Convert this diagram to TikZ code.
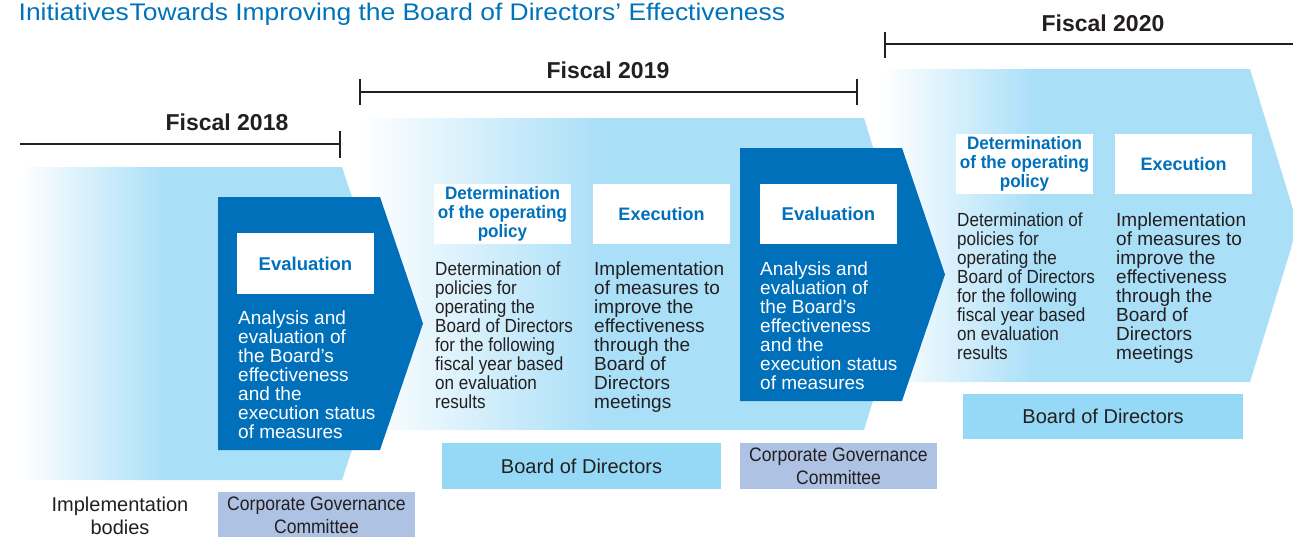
\documentclass[tikz,border=0pt]{standalone}
\usepackage{fontspec}
\setmainfont{Liberation Sans}
\newfontfamily\condfont{Liberation Sans}[FakeStretch=0.9]
\newfontfamily\condhfont{Liberation Sans}[FakeStretch=0.95]
\newfontfamily\titlefont{Liberation Sans}[FakeStretch=1.1]
\definecolor{dblue}{RGB}{0,112,187}
\definecolor{lblue}{RGB}{170,223,248}
\definecolor{bodfill}{RGB}{150,217,247}
\definecolor{cgcfill}{RGB}{174,195,228}
\definecolor{txt}{RGB}{35,31,32}
\definecolor{ttl}{RGB}{0,114,188}
\pgfdeclarehorizontalshading{fadeone}{100bp}{color(0bp)=(white); color(25bp)=(white); color(44.4bp)=(lblue); color(100bp)=(lblue)}
\pgfdeclarehorizontalshading{fadetwo}{100bp}{color(0bp)=(white); color(25bp)=(white); color(46.7bp)=(lblue); color(100bp)=(lblue)}
\pgfdeclarehorizontalshading{fadethree}{100bp}{color(0bp)=(white); color(25bp)=(white); color(43.3bp)=(lblue); color(100bp)=(lblue)}
\tikzset{
  hdrbox/.style={fill=white, draw=none, minimum width=137pt, minimum height=60pt, inner sep=0pt, text=dblue, align=center, font=\bfseries\fontsize{18pt}{19pt}\selectfont},
  hdrdet/.style={hdrbox, font=\condhfont\bfseries\fontsize{18pt}{19pt}\selectfont},
  desctext/.style={anchor=north west, inner sep=0pt, align=left, text=txt, font=\fontsize{19pt}{19pt}\selectfont},
  descnarrow/.style={desctext, font=\condfont\fontsize{19pt}{19pt}\selectfont},
  descwhite/.style={desctext, text=white},
  bodbox/.style={fill=bodfill, inner sep=0pt, text=txt, font=\fontsize{20pt}{23pt}\selectfont, minimum height=46pt, minimum width=279pt},
  cgcbox/.style={fill=cgcfill, inner sep=0pt, text=txt, align=center, font=\condfont\fontsize{19.5pt}{23pt}\selectfont, minimum width=197pt, minimum height=46pt},
  fiscallbl/.style={inner sep=0pt, text=txt, font=\bfseries\fontsize{23pt}{23pt}\selectfont},
  bracketline/.style={draw=txt, line width=1.6pt},
  darkarrow/.style={fill=dblue, draw=none},
}
\begin{document}
\begin{tikzpicture}[x=1pt,y=-1pt]
\useasboundingbox (0,0) rectangle (1293,536);
\begin{scope}
\clip (0,0) rectangle (1293,536);
% light arrows
\shade[shading=fadeone] (20,167) -- (342,167) -- (394,323.5) -- (342,480) -- (20,480) -- cycle;
\shade[shading=fadetwo] (361,118) -- (864,118) -- (912,274) -- (864,430) -- (361,430) -- cycle;
\shade[shading=fadethree] (883,69) -- (1250,69) -- (1298,225.5) -- (1250,382) -- (883,382) -- cycle;
% dark arrows
\fill[darkarrow] (218,197) -- (380,197) -- (423,323.5) -- (380,450) -- (218,450) -- cycle;
\fill[darkarrow] (740,148) -- (902,148) -- (945,274.5) -- (902,401) -- (740,401) -- cycle;
% brackets
\draw[bracketline] (20,144) -- (340,144);
\draw[bracketline] (340,131) -- (340,158);
\draw[bracketline] (360,92) -- (857,92);
\draw[bracketline] (360,79) -- (360,105);
\draw[bracketline] (857,79) -- (857,105);
\draw[bracketline] (885,44) -- (1293,44);
\draw[bracketline] (885,32) -- (885,58);
% title
\node[anchor=base west, inner sep=0pt, text=ttl, font=\titlefont\fontsize{24pt}{24pt}\selectfont] (title) at (18.5,20) {Initiatives\kern1pt Towards Improving the Board of Directors’ Effectiveness};
% fiscal labels
\node[fiscallbl] (f18) at (227,122) {Fiscal 2018};
\node[fiscallbl] (f19) at (608,70) {Fiscal 2019};
\node[fiscallbl] (f20) at (1103,23) {Fiscal 2020};
% header boxes
\node[hdrbox, minimum height=61pt, font=\bfseries\fontsize{18.5pt}{19pt}\selectfont] (h18) at (305.5,263.5) {Evaluation};
\node[hdrdet] (h19a) at (502.5,214) {Determination\\of the operating\\policy};
\node[hdrbox] (h19b) at (661.5,214) {Execution};
\node[hdrbox, font=\bfseries\fontsize{18.5pt}{19pt}\selectfont] (h19c) at (828.5,214) {Evaluation};
\node[hdrdet] (h20a) at (1024.5,164) {Determination\\of the operating\\policy};
\node[hdrbox] (h20b) at (1183.5,164) {Execution};
% descriptions
\node[descwhite] (d18) at (238,311) {Analysis and\\evaluation of\\the Board’s\\effectiveness\\and the\\execution status\\of measures};
\node[descnarrow] (d19a) at (435,262) {Determination of\\policies for\\operating the\\Board of Directors\\for the following\\fiscal year based\\on evaluation\\results};
\node[desctext] (d19b) at (594,262) {Implementation\\of measures to\\improve the\\effectiveness\\through the\\Board of\\Directors\\meetings};
\node[descwhite] (d19c) at (760,262) {Analysis and\\evaluation of\\the Board’s\\effectiveness\\and the\\execution status\\of measures};
\node[descnarrow] (d20a) at (957,213) {Determination of\\policies for\\operating the\\Board of Directors\\for the following\\fiscal year based\\on evaluation\\results};
\node[desctext] (d20b) at (1116,213) {Implementation\\of measures to\\improve the\\effectiveness\\through the\\Board of\\Directors\\meetings};
% implementation bodies
\node[inner sep=0pt, align=center, text=txt, font=\fontsize{20pt}{23pt}\selectfont] (impl) at (120,515.5) {Implementation\\bodies};
\node[cgcbox, minimum height=47pt] (cg18) at (316.5,515.5) {Corporate Governance\\Committee};
\node[bodbox] (bd19) at (581.5,466) {Board of Directors};
\node[cgcbox] (cg19) at (838.5,466) {Corporate Governance\\Committee};
\node[bodbox, minimum height=45pt, minimum width=280pt] (bd20) at (1103,416.5) {Board of Directors};
\end{scope}
\end{tikzpicture}
\end{document}
